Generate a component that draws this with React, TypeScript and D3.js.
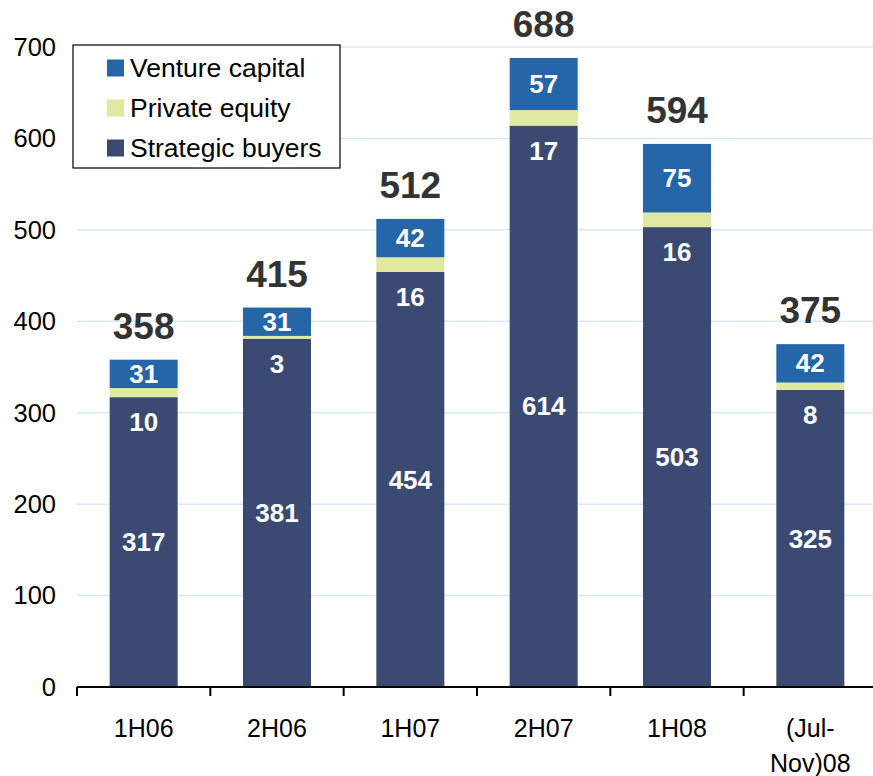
import React from 'react';
import * as d3 from 'd3';

const categories = ['1H06', '2H06', '1H07', '2H07', '1H08', '(Jul-Nov)08'];
const strategicBuyers = [317, 381, 454, 614, 503, 325];
const privateEquity = [10, 3, 16, 17, 16, 8];
const ventureCapital = [31, 31, 42, 57, 75, 42];
const totals = [358, 415, 512, 688, 594, 375];
const yTicks = [0, 100, 200, 300, 400, 500, 600, 700];

const colors = { vc: '#2566a8', pe: '#dfe9a0', sb: '#3b4a72' };
const font = 'Arial, "Liberation Sans", sans-serif';

export default function App() {
  const width = 873;
  const height = 776;
  const left = 77;
  const right = 877;
  const y = d3.scaleLinear().domain([0, 700]).range([687, 47]);
  const x = d3.scaleBand<string>().domain(categories).range([left, right]).paddingInner(0.49).paddingOuter(0.245);
  const bw = x.bandwidth();
  const step = x.step();

  const legend = [
    { label: 'Venture capital', color: colors.vc },
    { label: 'Private equity', color: colors.pe },
    { label: 'Strategic buyers', color: colors.sb },
  ];

  return (
    <svg width={width} height={height} style={{ position: 'absolute', left: 0, top: 0 }} fontFamily={font}>
      {yTicks.map(t => (
        <g key={t}>
          {t > 0 && <line x1={left} x2={right} y1={y(t)} y2={y(t)} stroke="#d6eaf4" strokeWidth={1.5} />}
          <text x={56} y={y(t)} dy="0.35em" textAnchor="end" fontSize={25.5} fill="#000">{t}</text>
        </g>
      ))}
      {categories.map((c, i) => {
        const x0 = x(c)!;
        const cx = x0 + bw / 2;
        const sbTop = y(strategicBuyers[i]);
        const peTop = y(strategicBuyers[i] + privateEquity[i]);
        const vcTop = y(totals[i]);
        return (
          <g key={c}>
            <rect x={x0} width={bw} y={sbTop} height={y(0) - sbTop} fill={colors.sb} />
            <rect x={x0} width={bw} y={peTop} height={sbTop - peTop} fill={colors.pe} />
            <rect x={x0} width={bw} y={vcTop} height={peTop - vcTop} fill={colors.vc} />
            <text x={cx} y={(y(0) + sbTop) / 2} dy="0.35em" textAnchor="middle" fill="#fff" fontWeight="bold" fontSize={26}>{strategicBuyers[i]}</text>
            <text x={cx} y={sbTop + 25} dy="0.35em" textAnchor="middle" fill="#fff" fontWeight="bold" fontSize={26}>{privateEquity[i]}</text>
            <text x={cx} y={(peTop + vcTop) / 2} dy="0.35em" textAnchor="middle" fill="#fff" fontWeight="bold" fontSize={26}>{ventureCapital[i]}</text>
            <text x={cx} y={vcTop - 21} textAnchor="middle" fill="#333" fontWeight="bold" fontSize={37}>{totals[i]}</text>
          </g>
        );
      })}
      <line x1={left} x2={right} y1={y(0)} y2={y(0)} stroke="#000" strokeWidth={2} />
      {d3.range(categories.length + 1).map(i => (
        <line key={i} x1={left + i * step} x2={left + i * step} y1={y(0)} y2={y(0) + 9} stroke="#000" strokeWidth={2} />
      ))}
      {categories.map(c => {
        const cx = x(c)! + bw / 2;
        if (c === '(Jul-Nov)08') {
          return (
            <text key={c} x={cx} textAnchor="middle" fontSize={25} fill="#000">
              <tspan x={cx} y={737}>(Jul-</tspan>
              <tspan x={cx} y={772}>Nov)08</tspan>
            </text>
          );
        }
        return <text key={c} x={cx} y={737} textAnchor="middle" fontSize={25} fill="#000">{c}</text>;
      })}
      <rect x={73} y={45} width={267} height={123} fill="#fff" stroke="#000" strokeWidth={1.2} />
      {legend.map((l, i) => (
        <g key={l.label} transform={`translate(107, ${68 + i * 40})`}>
          <rect x={0} y={-8.5} width={17} height={17} fill={l.color} />
          <text x={23} y={0} dy="0.35em" fontSize={26.5} fill="#000">{l.label}</text>
        </g>
      ))}
    </svg>
  );
}
